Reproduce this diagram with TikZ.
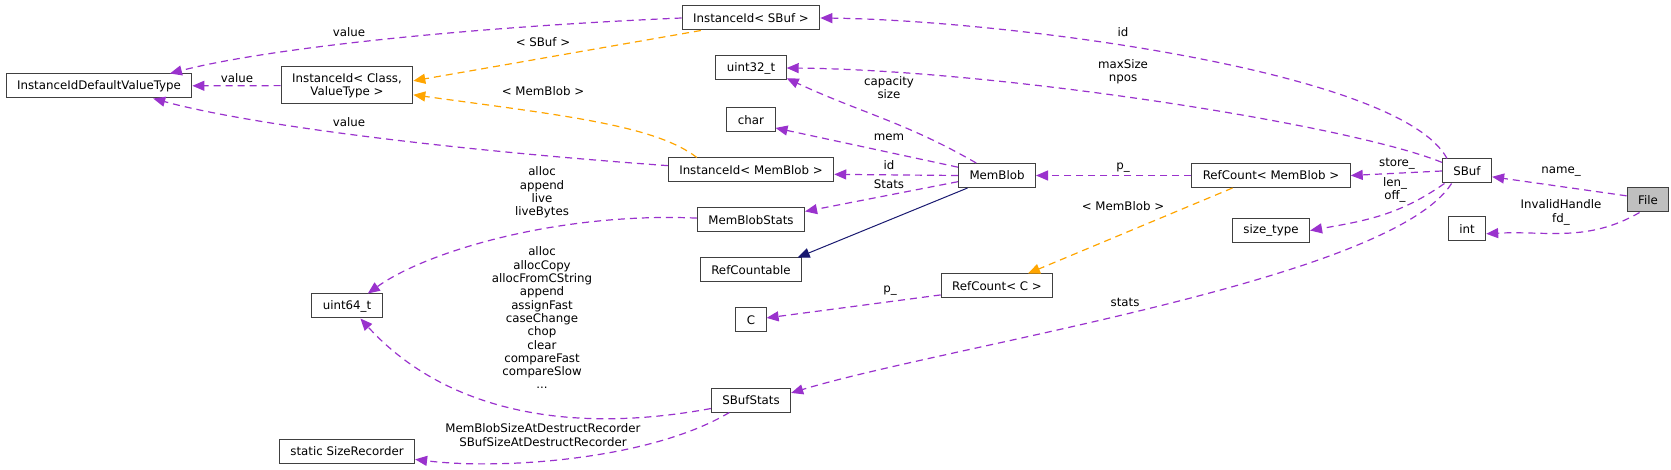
\documentclass[tikz,border=0pt]{standalone}
\usepackage{fontspec}
\setmainfont{DejaVu Sans}
\usepackage{tikz}
\usetikzlibrary{arrows.meta,positioning}

\definecolor{memberpurple}{RGB}{154,50,205}
\definecolor{templorange}{RGB}{255,165,0}
\definecolor{inheritnavy}{RGB}{25,25,112}
\definecolor{boxgray}{RGB}{64,64,64}
\definecolor{focusgray}{RGB}{191,191,191}

\begin{document}
\begin{tikzpicture}[->,>={Triangle[length=12pt,width=10pt]},x=1pt,y=-1pt,
    font=\fontsize{11.8pt}{13.3pt}\selectfont,
    class node/.style={rectangle,draw=boxgray,line width=1pt,fill=white,
    minimum height=24pt,inner xsep=11pt,inner ysep=3pt,align=center},
    member/.style={draw=memberpurple,line width=1.2pt,dash pattern=on 7pt off 5pt},
    templ/.style={draw=templorange,line width=1.2pt,dash pattern=on 7pt off 5pt},
    inherit/.style={draw=inheritnavy,line width=1pt},
    field label/.style={inner sep=0pt,align=center}]

    \useasboundingbox (0,0) rectangle (1671,470);

    \node[class node] (IdDefaultValue) at (99,86) {InstanceIdDefaultValueType};
    \node[class node,minimum height=37pt] (InstIdClassValue) at (347,85.5) {InstanceId< Class,\\ValueType >};
    \node[class node] (Uint64) at (347,306) {uint64\_t};
    \node[class node] (SizeRecorder) at (347,451) {static SizeRecorder};

    \node[class node] (InstIdSBuf) at (751,18) {InstanceId< SBuf >};
    \node[class node] (Uint32) [below=25pt of InstIdSBuf] {uint32\_t};
    \node[class node] (CharType) [below=27pt of Uint32] {char};
    \node[class node] (InstIdMemBlob) [below=25pt of CharType] {InstanceId< MemBlob >};
    \node[class node] (MemBlobStats) [below=25pt of InstIdMemBlob] {MemBlobStats};
    \node[class node] (RefCountable) [below=25pt of MemBlobStats] {RefCountable};
    \node[class node] (CType) [below=25pt of RefCountable] {C};
    \node[class node] (SBufStats) [below=55pt of CType] {SBufStats};

    \node[class node] (MemBlob) at (997,175.5) {MemBlob};
    \node[class node] (RefCountC) at (997,286) {RefCount< C >};
    \node[class node] (RefCountMemBlob) at (1271,175.5) {RefCount< MemBlob >};
    \node[class node] (SizeType) [below=30pt of RefCountMemBlob] {size\_type};
    \node[class node] (SBuf) at (1467,171) {SBuf};
    \node[class node] (IntType) at (1467,229) {int};
    \node[class node,fill=focusgray] (File) at (1648,200) {File};

    \node[field label] (lValueTop) at (349,32) {value};
    \node[field label] (lValueMid) at (237,78) {value};
    \node[field label] (lValueLow) at (349,122) {value};
    \node[field label] (lTplSBuf) at (543,42) {< SBuf >};
    \node[field label] (lTplMemBlobA) at (543,91) {< MemBlob >};
    \node[field label] (lIdSBuf) at (1123,32) {id};
    \node[field label] (lMaxSize) at (1123,71.5) {maxSize\\npos};
    \node[field label] (lCapacity) at (889,87.5) {capacity\\size};
    \node[field label] (lMem) at (889,137) {mem};
    \node[field label] (lIdMemBlob) at (889,165) {id};
    \node[field label] (lStats) at (889,184) {Stats};
    \node[field label] (lMemStatsFields) at (542,192.5) {alloc\\append\\live\\liveBytes};
    \node[field label] (lPtrMemBlob) at (1123,168) {p\_};
    \node[field label] (lTplMemBlobB) at (1123,206) {< MemBlob >};
    \node[field label] (lPtrC) at (890,291) {p\_};
    \node[field label] (lStore) at (1397,164) {store\_};
    \node[field label] (lLenOff) at (1395,190) {len\_\\off\_};
    \node[field label] (lStatsField) at (1125,302) {stats};
    \node[field label] (lSBufStatsFields) at (542,318) {alloc\\allocCopy\\allocFromCString\\append\\assignFast\\caseChange\\chop\\clear\\compareFast\\compareSlow\\...};
    \node[field label] (lRecorders) at (543,435) {MemBlobSizeAtDestructRecorder\\SBufSizeAtDestructRecorder};
    \node[field label] (lName) at (1561,172) {name\_};
    \node[field label] (lFd) at (1561,212.5) {InvalidHandle\\fd\_};

    \path (InstIdClassValue) edge [member] (IdDefaultValue)
        (InstIdSBuf.194) edge [templ] (InstIdClassValue.4)
        (MemBlob.168) edge [member] (CharType.342)
        (MemBlob.west) edge [member] (InstIdMemBlob.357)
        (MemBlob.189) edge [member] (MemBlobStats.9)
        (MemBlob.149) edge [member,out=150,in=-25] (Uint32.344)
        (MemBlob.203) edge [inherit] (RefCountable.15)
        (RefCountMemBlob) edge [member] (MemBlob)
        (RefCountMemBlob.198) edge [templ] (RefCountC.22)
        (RefCountC.189) edge [member] (CType)
        (SBuf.west) edge [member] (RefCountMemBlob.east)
        (SBuf.209) edge [member,out=215,in=10] (SizeType.east)
        (File.169) edge [member] (SBuf.347)
        (File.236) edge [member,out=210,in=3] (IntType.346);

    \draw [member] (InstIdSBuf.west) .. controls (450,28) and (260,50) .. (IdDefaultValue.10);
    \draw [member] (InstIdMemBlob.177) .. controls (450,150) and (250,125) .. (IdDefaultValue.347);
    \draw [templ] (InstIdMemBlob.167) .. controls (655,125) and (560,115) .. (InstIdClassValue.352);
    \draw [member] (SBuf.148) .. controls (1400,70) and (1000,20) .. (InstIdSBuf.east);
    \draw [member] (SBuf.161) .. controls (1350,125) and (1000,70) .. (Uint32.east);
    \draw [member] (MemBlobStats.178) .. controls (560,212) and (427,251) .. (Uint64.31);
    \draw [member] (SBuf.219) .. controls (1390,280) and (950,345) .. (SBufStats.10);
    \draw [member] (SBufStats.192) .. controls (540,440) and (430,395) .. (Uint64.317);
    \draw [member] (SBufStats.210) .. controls (650,460) and (500,470) .. (SizeRecorder.353);
\end{tikzpicture}
\end{document}
